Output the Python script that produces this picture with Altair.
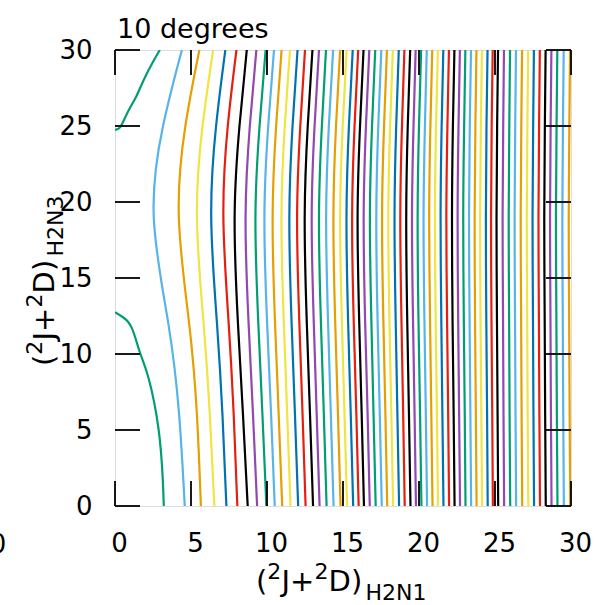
import altair as alt
import pandas as pd

# gnuplot default line-type cycle (index = level % 8)
PALETTE = ["#9148B0", "#009E73", "#56B4E9", "#E69F00",
           "#F0E442", "#0072B2", "#E51E10", "#000000"]

panel_title = "10 degrees"
tick_values = [0, 5, 10, 15, 20, 25, 30]

# contour levels 2..59 : x position of each contour at the sample heights y_rows
y_rows = [0, 6, 12, 19, 25, 30]
x_at_y0 = [4.59, 5.65, 6.54, 7.33, 8.05, 8.73, 9.35, 9.96, 10.51, 11.00, 11.55, 12.05, 12.54, 13.03, 13.46,
           13.92, 14.38, 14.84, 15.27, 15.67, 16.03, 16.38, 16.76, 17.15, 17.55, 17.91, 18.30, 18.69, 19.06,
           19.44, 19.80, 20.16, 20.53, 20.89, 21.25, 21.61, 21.98, 22.34, 22.70, 23.06, 23.43, 23.79, 24.15,
           24.52, 24.86, 25.21, 25.60, 26.00, 26.39, 26.79, 27.19, 27.57, 27.96, 28.34, 28.72, 29.11, 29.53, 29.95]
x_at_y6 = [4.22, 5.39, 6.24, 7.07, 7.81, 8.42, 9.08, 9.70, 10.27, 10.77, 11.33, 11.84, 12.34, 12.83, 13.27,
           13.74, 14.20, 14.67, 15.10, 15.51, 15.88, 16.23, 16.62, 17.01, 17.42, 17.79, 18.18, 18.58, 18.96,
           19.34, 19.71, 20.07, 20.45, 20.81, 21.18, 21.54, 21.92, 22.28, 22.64, 23.01, 23.38, 23.74, 24.10,
           24.48, 24.82, 25.17, 25.56, 25.96, 26.35, 26.75, 27.15, 27.53, 27.92, 28.30, 28.68, 29.07, 29.49, 29.91]
x_at_y12 = [3.51, 4.88, 5.83, 6.71, 7.48, 8.09, 8.79, 9.43, 10.01, 10.53, 11.11, 11.62, 12.13, 12.62, 13.08,
            13.55, 14.02, 14.49, 14.93, 15.34, 15.71, 16.07, 16.46, 16.87, 17.28, 17.66, 18.06, 18.47, 18.85,
            19.23, 19.61, 19.97, 20.36, 20.73, 21.10, 21.47, 21.85, 22.21, 22.58, 22.95, 23.33, 23.69, 24.05,
            24.43, 24.77, 25.13, 25.53, 25.93, 26.32, 26.72, 27.12, 27.50, 27.89, 28.27, 28.65, 29.04, 29.46, 29.88]
x_at_y19 = [2.55, 4.20, 5.39, 6.33, 7.13, 7.87, 8.59, 9.24, 9.83, 10.37, 10.95, 11.47, 11.98, 12.48, 12.94,
            13.42, 13.89, 14.37, 14.81, 15.23, 15.60, 15.96, 16.36, 16.77, 17.19, 17.57, 17.98, 18.39, 18.77,
            19.16, 19.54, 19.91, 20.30, 20.67, 21.05, 21.42, 21.80, 22.17, 22.54, 22.91, 23.29, 23.66, 24.02,
            24.40, 24.74, 25.10, 25.50, 25.90, 26.29, 26.69, 27.09, 27.47, 27.86, 28.24, 28.62, 29.01, 29.43, 29.85]
x_at_y25 = [3.16, 4.63, 5.76, 6.65, 7.42, 8.19, 8.87, 9.51, 10.08, 10.60, 11.17, 11.68, 12.19, 12.68, 13.13,
            13.61, 14.07, 14.54, 14.98, 15.39, 15.76, 16.12, 16.51, 16.91, 17.32, 17.70, 18.10, 18.50, 18.88,
            19.26, 19.64, 20.00, 20.39, 20.75, 21.12, 21.49, 21.87, 22.23, 22.60, 22.97, 23.34, 23.71, 24.07,
            24.44, 24.78, 25.14, 25.54, 25.94, 26.33, 26.73, 27.13, 27.51, 27.90, 28.28, 28.66, 29.05, 29.47, 29.89]
x_at_y30 = [4.40, 5.55, 6.46, 7.26, 7.99, 8.67, 9.30, 9.91, 10.46, 10.96, 11.51, 12.01, 12.50, 12.99, 13.42,
            13.88, 14.35, 14.81, 15.24, 15.64, 16.00, 16.35, 16.73, 17.12, 17.52, 17.89, 18.28, 18.67, 19.04,
            19.42, 19.78, 20.14, 20.51, 20.87, 21.24, 21.60, 21.97, 22.33, 22.69, 23.05, 23.42, 23.78, 24.14,
            24.51, 24.85, 25.20, 25.59, 25.99, 26.38, 26.78, 27.18, 27.56, 27.95, 28.33, 28.71, 29.10, 29.52, 29.94]

# level 1 (green) is split in two branches
green_low_x = [3.21, 3.14, 2.86, 2.21, 1.64, 1.11, 0.55, 0.0]
green_low_y = [0.0, 1.8, 5.1, 8.4, 10.1, 11.7, 12.4, 12.75]
green_top_x = [0.0, 0.36, 0.8, 1.39, 1.89, 2.45, 2.95]
green_top_y = [24.75, 24.95, 25.84, 26.93, 28.03, 29.13, 30.0]

rows = []
table = [x_at_y0, x_at_y6, x_at_y12, x_at_y19, x_at_y25, x_at_y30]
for i in range(len(x_at_y0)):
    level = i + 2
    for j, yv in enumerate(y_rows):
        rows.append({"grp": f"L{level}", "x": table[j][i], "y": yv, "ord": j,
                     "col": PALETTE[level % 8]})
for j, (xv, yv) in enumerate(zip(green_low_x, green_low_y)):
    rows.append({"grp": "G1a", "x": xv, "y": yv, "ord": j, "col": PALETTE[1]})
for j, (xv, yv) in enumerate(zip(green_top_x, green_top_y)):
    rows.append({"grp": "G1b", "x": xv, "y": yv, "ord": j, "col": PALETTE[1]})
df = pd.DataFrame(rows)

W, H = 456, 456
FONT = "DejaVu Sans"
xs = alt.Scale(domain=[0, 30], nice=False, zero=False)
ys = alt.Scale(domain=[0, 30], nice=False, zero=False)

lines = alt.Chart(df).mark_line(interpolate="natural", strokeWidth=2.2, clip=True).encode(
    x=alt.X("x:Q", scale=xs, axis=alt.Axis(values=tick_values, ticks=False, domain=False, grid=False,
                                           tickSize=0, labelPadding=24, labelOffset=4, labelFontSize=26,
                                           labelFlush=False, labelOverlap=False,
                                           labelFont=FONT, labelColor="black", title=None)),
    y=alt.Y("y:Q", scale=ys, axis=alt.Axis(values=tick_values, ticks=False, domain=False, grid=False,
                                           tickSize=0, labelPadding=23, labelFontSize=26,
                                           labelFlush=False, labelOverlap=False,
                                           labelFont=FONT, labelColor="black", title=None)),
    detail="grp:N",
    order=alt.Order("ord:Q"),
    color=alt.Color("col:N", scale=None),
)

ticks_df = pd.DataFrame({"t": tick_values})
tick_base = alt.Chart(ticks_df).mark_rule(color="black", strokeWidth=1.8)
tb = tick_base.encode(x=alt.X("t:Q", scale=xs), y=alt.value(H), y2=alt.value(H - 25))
tt = tick_base.encode(x=alt.X("t:Q", scale=xs), y=alt.value(0), y2=alt.value(25))
tl = tick_base.encode(y=alt.Y("t:Q", scale=ys), x=alt.value(0), x2=alt.value(25))
tr = tick_base.encode(y=alt.Y("t:Q", scale=ys), x=alt.value(W), x2=alt.value(W - 25))


def txt(s, x, y, size=29, angle=0):
    kw = dict(align="left", baseline="alphabetic", fontSize=size, font=FONT, color="black")
    if angle:
        kw["angle"] = angle
    return alt.Chart(pd.DataFrame({"s": [s]})).mark_text(**kw).encode(
        text="s:N", x=alt.value(x), y=alt.value(y))


# axis titles built from pieces: (^2J+^2D)_{H2N1}
pieces = [("(", 0.0, 29, 0), ("2", 11.3, 22, -12), ("J+", 25.5, 29, 0),
          ("2", 58.4, 22, -12), ("D)", 72.6, 29, 0), ("H2N1", 109.5, 22, 9)]
x_title_layers = []
y_title_layers = []
for s, off, size, lift in pieces:
    x_title_layers.append(txt(s, 141 + off, 541 + lift, size))
    ys_text = "H2N3" if s == "H2N1" else s
    y_title_layers.append(txt(ys_text, -61 + lift, 316 - off, size, 270))

title = txt(panel_title, 2, -12, 27)
edge0 = alt.Chart(pd.DataFrame({"s": ["0"]})).mark_text(
    align="center", baseline="middle", fontSize=26, font=FONT, color="black").encode(
    text="s:N", x=alt.value(-117), y=alt.value(495))

chart = alt.layer(lines, tb, tt, tl, tr, title, *x_title_layers, *y_title_layers, edge0).properties(
    width=W, height=H,
    padding={"left": 115, "top": 50, "right": 25, "bottom": 99},
    autosize=alt.AutoSizeParams(type="none"),
).configure_view(stroke="black", strokeWidth=2).configure(background="white")

chart.save("out.html", embed_options={"renderer": "svg", "actions": False})
